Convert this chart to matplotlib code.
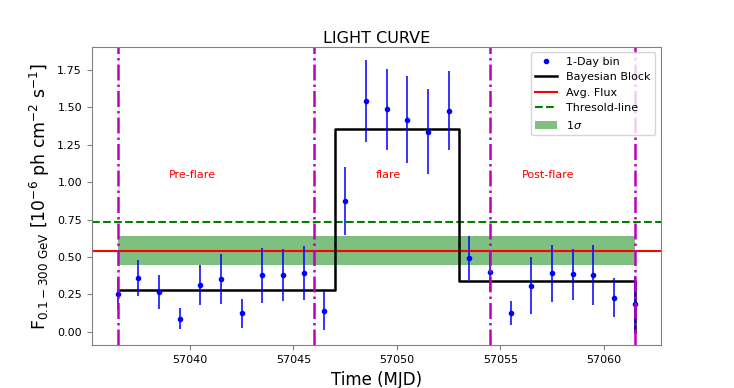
import matplotlib
matplotlib.use("Agg")
import matplotlib.pyplot as plt
import numpy as np

# ---- data ----
mjd = [57036.5, 57037.5, 57038.5, 57039.5, 57040.5, 57041.5, 57042.5, 57043.5,
       57044.5, 57045.5, 57046.5, 57047.5, 57048.5, 57049.5, 57050.5, 57051.5,
       57052.5, 57053.5, 57054.5, 57055.5, 57056.5, 57057.5, 57058.5, 57059.5,
       57060.5, 57061.5]
flux = [0.252, 0.361, 0.265, 0.087, 0.314, 0.352, 0.122, 0.376,
        0.378, 0.392, 0.140, 0.871, 1.541, 1.487, 1.418, 1.336,
        1.478, 0.492, 0.399, 0.127, 0.307, 0.390, 0.385, 0.378,
        0.227, 0.187]
flux_err = [0.11, 0.12, 0.113, 0.07, 0.135, 0.167, 0.10, 0.185,
            0.175, 0.178, 0.13, 0.227, 0.274, 0.27, 0.293, 0.283,
            0.264, 0.148, 0.13, 0.08, 0.19, 0.19, 0.17, 0.20,
            0.13, 0.185]

block_edges = [57036.5, 57047.0, 57053.0, 57061.5]
block_values = [0.28, 1.354, 0.339]

avg_flux = 0.541
sigma_lo = 0.446
sigma_hi = 0.637
threshold = 0.733

phase_bounds = [57036.5, 57046.0, 57054.5, 57061.5]
phase_labels = ["Pre-flare", "flare", "Post-flare"]
phase_label_x = [57040.1, 57049.6, 57057.3]
phase_label_y = 1.05

# ---- plot ----
fig = plt.figure(figsize=(7.34, 3.88), dpi=100)
ax = fig.add_subplot(111)

ax.fill_between(mjd, [sigma_lo] * len(mjd), [sigma_hi] * len(mjd),
                color="green", alpha=0.5, linewidth=0, label=r"1$\sigma$")
ax.axhline(avg_flux, color="red", lw=1.5, label="Avg. Flux")
ax.axhline(threshold, color="green", ls="--", lw=1.5, label="Thresold-line")

bx = [block_edges[0]]
by = [block_values[0]]
for i, v in enumerate(block_values):
    bx += [block_edges[i], block_edges[i + 1]]
    by += [v, v]
bx += [block_edges[-1]]
by += [0.0]
ax.plot(bx, by, color="black", lw=1.8, label="Bayesian Block")

ax.errorbar(mjd, flux, yerr=flux_err, fmt="none", ecolor="blue",
            elinewidth=1.3, alpha=0.85)
ax.plot(mjd, flux, "b.", markersize=6, label="1-Day bin")

for xb in phase_bounds:
    ax.axvline(xb, color="m", ls="-.", lw=1.8)

for lab, lx in zip(phase_labels, phase_label_x):
    ax.text(lx, phase_label_y, lab, color="red", fontsize=8,
            ha="center", va="center")

ax.set_title("LIGHT CURVE", fontsize=11.5, pad=2.5)
ax.set_xlabel("Time (MJD)", fontsize=12)
ax.set_ylabel(r"F$_{0.1-300\ \rm GeV}$ [10$^{-6}$ ph cm$^{-2}$ s$^{-1}$]",
              fontsize=12.4)
ax.tick_params(labelsize=8, color="grey")
for sp in ax.spines.values():
    sp.set_color("grey")
ax.ticklabel_format(useOffset=False, axis="x")

h, l = ax.get_legend_handles_labels()
order = ["1-Day bin", "Bayesian Block", "Avg. Flux", "Thresold-line", r"1$\sigma$"]
hl = dict(zip(l, h))
ax.legend([hl[k] for k in order], order, loc="upper right", fontsize=8)

fig.subplots_adjust(left=0.125, right=0.9, bottom=0.11, top=0.88)
fig.savefig("out.png", dpi=100)
